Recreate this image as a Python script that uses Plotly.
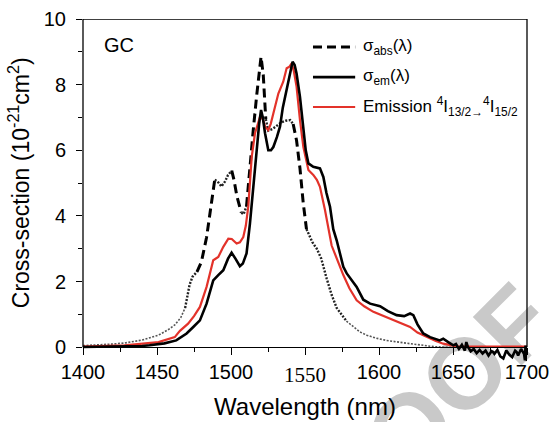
import bisect
import plotly.graph_objects as go

# wavelength (nm) / cross-section (10^-21 cm^2)
abs_x = [1400, 1410, 1420, 1428, 1440, 1451, 1458, 1462, 1466, 1469, 1472, 1474, 1477,
         1480, 1483.5, 1487, 1489, 1491, 1493.5, 1496, 1498, 1500.5, 1502, 1504, 1507,
         1508.5, 1510.5, 1512.8, 1515, 1517.3, 1519, 1520.3, 1521.8, 1523.5, 1525.2, 1528,
         1531, 1534, 1537, 1540, 1542, 1544.3, 1546.6, 1548.8, 1551, 1555, 1558, 1561,
         1564.6, 1568, 1571.4, 1574, 1578, 1582.6, 1587, 1591.7, 1598, 1605, 1613, 1621,
         1630, 1637, 1645, 1650]
abs_y = [0.05, 0.07, 0.1, 0.13, 0.22, 0.37, 0.55, 0.68, 0.9, 1.2, 1.9, 2.15, 2.3,
         2.6, 3.35, 4.5, 5.1, 5.05, 4.9, 5.05, 5.25, 5.38, 5.1, 4.6, 4.1,
         4.05, 4.3, 5.6, 6.6, 7.65, 8.4, 8.85, 8.3, 6.95, 6.6, 6.65,
         6.75, 6.85, 6.9, 6.92, 6.8, 6.3, 5.45, 4.4, 3.6, 3.2, 3.0, 2.7,
         2.1, 1.6, 1.2, 1.05, 0.8, 0.62, 0.47, 0.37, 0.28, 0.21, 0.15, 0.11,
         0.06, 0.02, 0.0, 0.0]

em_x = [1400, 1420, 1440, 1445, 1455, 1463, 1470, 1474.5, 1479, 1483.5, 1488, 1491.4,
        1494.8, 1498, 1500.4, 1503, 1506, 1508, 1510.5, 1512.8, 1515, 1517.3, 1519,
        1520.3, 1521.5, 1523, 1525.2, 1527, 1528.6, 1531, 1533.1, 1535, 1536.5, 1538.7,
        1540.5, 1541.6, 1543, 1544.3, 1546.6, 1548.9, 1550.5, 1552.3, 1555.6, 1560.1,
        1562.4, 1564.5, 1566.9, 1569.1, 1571.4, 1575.9, 1578.2, 1584.9, 1589.4, 1594,
        1600.7, 1606, 1611.9, 1617, 1621, 1623.2, 1626, 1629.9, 1634.5, 1641, 1643.4,
        1647, 1650.2, 1652, 1654, 1656, 1658, 1659, 1660, 1662, 1664, 1666, 1668, 1670,
        1672, 1674, 1676, 1677, 1678, 1680, 1682, 1684, 1686, 1688, 1690, 1692, 1693,
        1694, 1696, 1698, 1698.6, 1699, 1700]
em_y = [0.01, 0.02, 0.04, 0.06, 0.12, 0.21, 0.42, 0.62, 0.82, 1.33, 2.04, 2.2,
        2.35, 2.7, 2.88, 2.7, 2.47, 2.55, 2.86, 3.77, 4.9, 5.9, 6.8,
        7.23, 7.0, 6.52, 6.0, 6.0, 6.1, 6.4, 6.72, 7.3, 7.63, 8.09,
        8.55, 8.7, 8.6, 8.34, 7.63, 6.62, 6.0, 5.6, 5.5, 5.45,
        5.19, 4.7, 4.28, 3.6, 3.26, 2.45, 2.25, 1.84, 1.45, 1.33,
        1.25, 1.1, 0.98, 0.95, 1.03, 0.98, 0.7, 0.42, 0.31, 0.21, 0.26,
        0.15, 0.06, 0.1, -0.05, 0.08, -0.1, 0.16, 0.02, -0.12, -0.05, -0.18, -0.08, -0.19,
        -0.1, -0.25, -0.12, -0.14, -0.2, -0.08, -0.28, -0.34, -0.1, -0.22, -0.3, -0.1, -0.14,
        -0.25, -0.05, -0.2, -0.4, 0.05, -0.42]

red_x = [1400, 1428, 1451, 1462, 1465.5, 1471, 1475, 1479, 1483.5, 1488, 1491.4, 1494.8,
         1498.2, 1500.5, 1503.8, 1506, 1508.3, 1510, 1511.7, 1512.8, 1514, 1516.2, 1519.6,
         1521.5, 1523, 1525.2, 1526.8, 1528.6, 1532, 1535.3, 1537.6, 1539.5, 1541, 1542.5,
         1544.3, 1546.6, 1548.9, 1552.3, 1555.6, 1558, 1560.1, 1563.5, 1568, 1575.9, 1580,
         1584.9, 1590, 1596.2, 1603, 1609.7, 1615, 1621, 1626, 1632.2, 1638, 1643.4,
         1652.4, 1660, 1700]
red_y = [0.02, 0.06, 0.16, 0.31, 0.5, 0.72, 0.95, 1.23, 1.84, 2.65, 2.75, 3.06,
         3.31, 3.3, 3.16, 3.2, 3.36, 3.7, 4.3, 5.2, 5.8, 6.52, 7.02,
         6.95, 6.72, 6.62, 6.8, 7.12, 7.73, 8.09, 8.5, 8.55, 8.65, 8.4,
         7.94, 6.92, 6.1, 5.4, 5.25, 5.1, 4.89, 4.18, 3.1, 2.2, 1.8,
         1.43, 1.25, 1.08, 0.95, 0.82, 0.72, 0.62, 0.45, 0.31, 0.2, 0.11,
         0.03, 0.02, 0.02]

x_ticks = [1400, 1450, 1500, 1550, 1600, 1650, 1700]
x_labels = ["1400", "1450", "1500", "1550", "1600", "1650", "1700"]
y_ticks = [0, 2, 4, 6, 8, 10]
y_labels = ["0", "2", "4", "6", "8", "10"]

RED = "#e3322a"
FONT = "Liberation Sans, Arial, sans-serif"
Y0 = -0.6  # room below zero for the noisy tail
DASH = "9px,5px"

# the dashed sigma_abs curve turns into fine dots where it runs flat (origin-style look)
abs_style = [(1400, 1469, "dot"), (1469, 1477, "fine"), (1477, 1489, "dash"),
             (1489, 1500.5, "fine"), (1500.5, 1507, "dash"), (1507, 1510.5, "fine"),
             (1510.5, 1523.5, "dash"), (1523.5, 1542, "fine"), (1542, 1551, "dash"),
             (1551, 1578, "fine"), (1578, 1650, "dot")]
STYLE = {"dash": dict(color="black", width=3, dash=DASH),
         "fine": dict(color="#222222", width=2.4, dash="2px,1.5px"),
         "dot": dict(color="#555555", width=1.6, dash="2px,1.5px")}

fig = go.Figure()
for a, b, s in abs_style:
    i0 = max(bisect.bisect_right(abs_x, a) - 1, 0)
    i1 = min(bisect.bisect_left(abs_x, b), len(abs_x) - 1)
    fig.add_trace(go.Scatter(x=abs_x[i0:i1 + 1], y=abs_y[i0:i1 + 1], mode="lines",
                             line=STYLE[s], hoverinfo="skip"))
fig.add_trace(go.Scatter(x=red_x, y=red_y, mode="lines", line=dict(color=RED, width=2.2)))
fig.add_trace(go.Scatter(x=em_x, y=em_y, mode="lines", line=dict(color="black", width=2.6)))

# frame: left, top, right (x axis line sits at y = 0)
for x0, x1, y0, y1 in [(0, 0, 0, 10), (0, 1, 10, 10), (1, 1, 0, 10)]:
    fig.add_shape(type="line", xref="paper", yref="y", x0=x0, x1=x1, y0=y0, y1=y1,
                  line=dict(color="black", width=1.3))

# PROOF watermark, underneath everything
fig.add_shape(type="rect", xref="paper", yref="paper", x0=0.706, x1=0.736, y0=-0.172, y1=-0.142,
              line=dict(width=0), layer="below",
              label=dict(text="<b>PROOF</b>", textangle=-45, textposition="middle center",
                         font=dict(family=FONT, size=100, color="#c9c9c9")))

# legend by hand
legend_rows = [("σ<sub>abs</sub>(λ)", "black", 9.15, DASH, 3),
               ("σ<sub>em</sub>(λ)", "black", 8.23, "solid", 2.6),
               ("Emission <sup>4</sup>I<sub>13/2→</sub><sup>4</sup>I<sub>15/2</sub>", RED, 7.32, "solid", 2.2)]
for txt, col, yy, dash, w in legend_rows:
    fig.add_shape(type="line", xref="paper", yref="y", x0=0.518, x1=0.613, y0=yy, y1=yy,
                  line=dict(color=col, width=w, dash=dash))
    fig.add_annotation(x=0.626, y=yy, xref="paper", yref="y", text=txt, showarrow=False,
                       xanchor="left", yanchor="middle", font=dict(size=17, color="black"))

fig.add_annotation(x=1413, y=9.2, xref="x", yref="y", text="GC", showarrow=False,
                   xanchor="left", yanchor="middle", font=dict(size=20, color="black"))

# y title as a rotated annotation so it can sit where the original has it
fig.add_annotation(x=-0.144, y=5, xref="paper", yref="y", textangle=-90, showarrow=False,
                   text="Cross-section (10<sup>-21</sup>cm<sup>2</sup>)",
                   xanchor="center", yanchor="middle", font=dict(size=23, color="black"))

# the 1550 label is set in a serif face in the original
fig.add_annotation(x=1550, y=-0.024, xref="x", yref="paper", text="1550", showarrow=False,
                   yanchor="middle", font=dict(family="Liberation Serif, Times New Roman, serif",
                                               size=21, color="black"))

fig.update_layout(
    width=552, height=422, margin=dict(l=83, r=25, t=19, b=55.3),
    paper_bgcolor="white", plot_bgcolor="rgba(0,0,0,0)", showlegend=False,
    font=dict(family=FONT, size=20, color="black"),
    xaxis=dict(range=[1400, 1700], tickvals=x_ticks,
               ticktext=[("" if t == 1550 else l) for t, l in zip(x_ticks, x_labels)],
               anchor="free", position=-Y0 / (10 - Y0), automargin=False,
               showline=True, linecolor="black", linewidth=1.3, mirror=False,
               ticks="outside", ticklen=7, tickwidth=1.3, tickcolor="black",
               minor=dict(dtick=25, ticks="outside", ticklen=4, tickwidth=1.3, tickcolor="black"),
               showgrid=False, zeroline=False,
               title=dict(text="Wavelength (nm)", standoff=15)),
    yaxis=dict(range=[Y0, 10], tickvals=y_ticks, ticktext=y_labels, automargin=False,
               showline=False, ticks="outside", ticklen=6, tickwidth=1.3, tickcolor="black",
               ticklabelstandoff=6,
               minor=dict(tickvals=[1, 3, 5, 7, 9], ticks="outside", ticklen=4, tickwidth=1.3,
                          tickcolor="black"),
               showgrid=False, zeroline=False),
)

# drop the browser's default 8px body margin so the figure fills the window
fig.write_html("out.html", config={"displayModeBar": False},
               post_script="document.body.style.margin='0';document.body.style.overflow='hidden';")
